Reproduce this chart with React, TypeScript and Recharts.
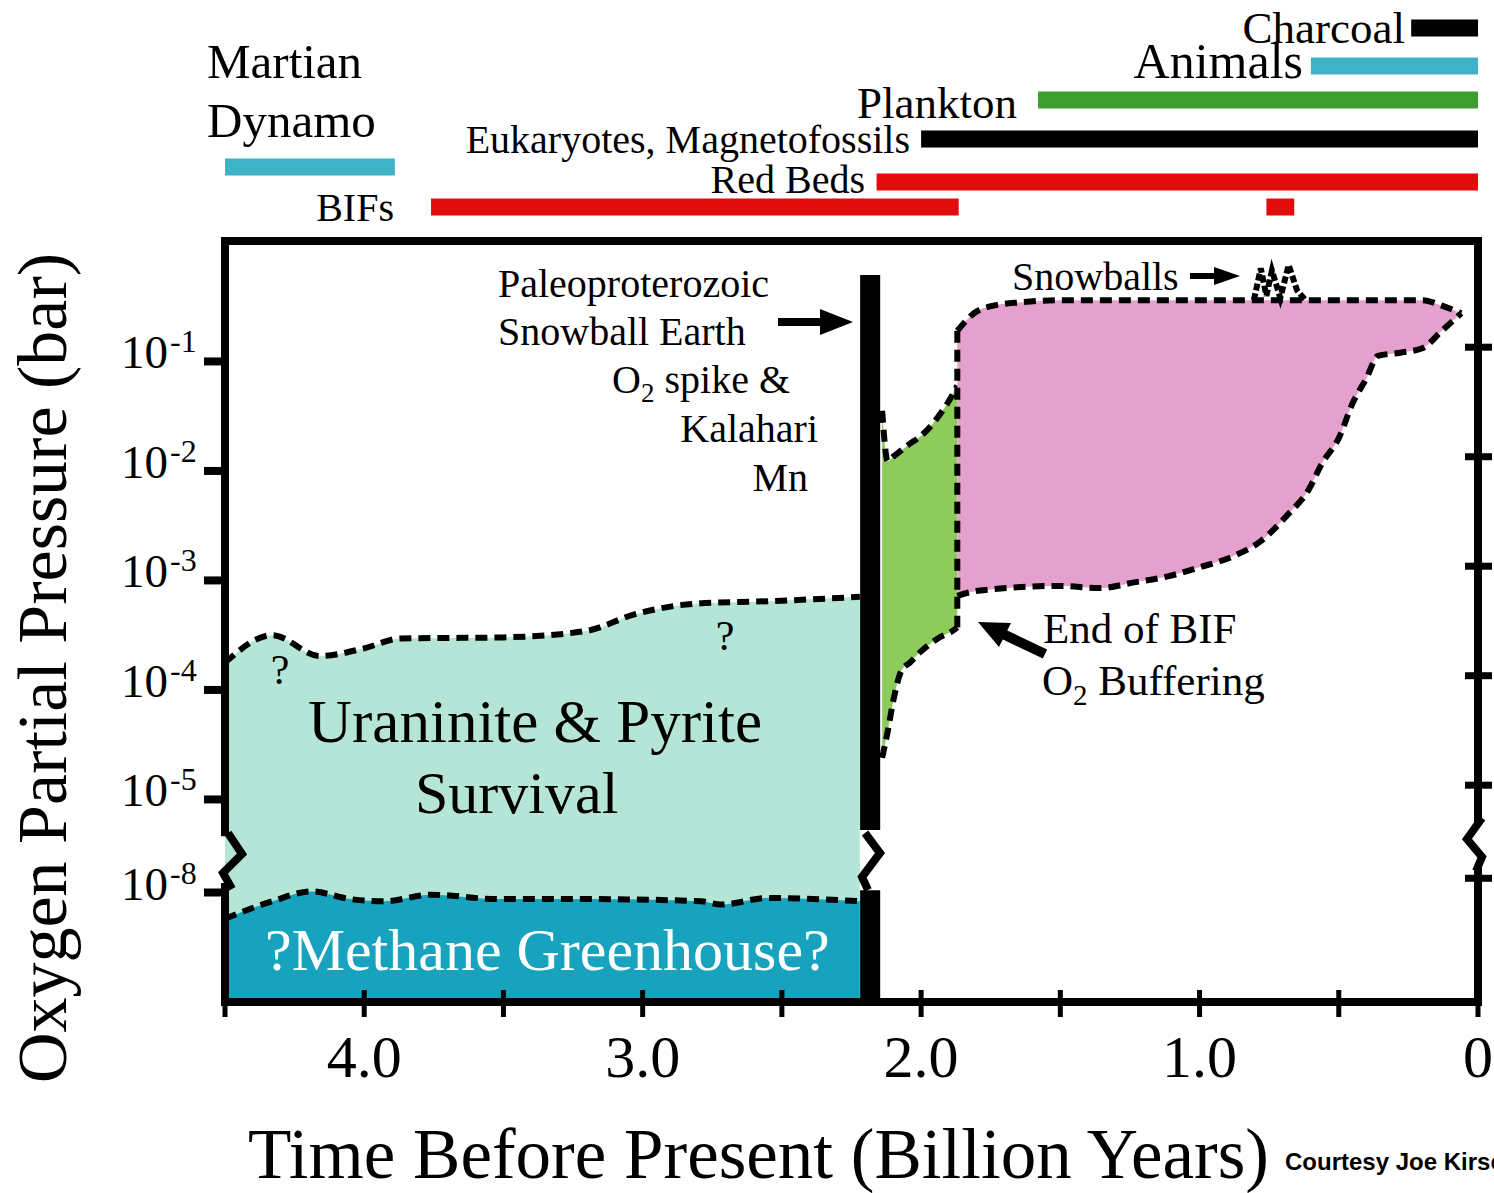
import React from 'react';
import { ComposedChart, LineChart, Line, Area, XAxis, YAxis, ReferenceLine, ReferenceArea } from 'recharts';

const W = 1494;
const H = 1193;
const SERIF = '"Liberation Serif", "Times New Roman", serif';

// time axis, billion years before present
const X_TICKS = [4.5, 4, 3.5, 3, 2.5, 2, 1.5, 1, 0.5, 0];
const X_TICK_LABELS: Record<string, string> = { '4': '4.0', '3': '3.0', '2': '2.0', '1': '1.0', '0': '0' };

// pO2 exponents on the y axis; the axis is broken between 1e-5 and 1e-8
const Y_EXPONENTS = [-1, -2, -3, -4, -5, -8];
const BREAK_SHIFT = 2.15;
const toAxis = (logP: number) => (logP < -6 ? logP + BREAK_SHIFT : logP);
const Y_MIN = toAxis(-9);
const Y_MAX = 0.1;

// upper limit for uraninite & pyrite survival (log10 bar)
const URANINITE_T = [4.5, 4.33, 4.16, 4.0, 3.87, 3.5, 3.2, 3.03, 2.8, 2.55, 2.22];
const URANINITE_LOG = [-3.75, -3.5, -3.69, -3.62, -3.53, -3.52, -3.46, -3.31, -3.21, -3.19, -3.15];

// methane greenhouse ceiling (below the break)
const METHANE_T = [4.5, 4.33, 4.19, 4.05, 3.93, 3.76, 3.52, 3.2, 2.79, 2.72, 2.55, 2.22];
const METHANE_LOG = [-8.24, -8.08, -7.99, -8.06, -8.08, -8.02, -8.06, -8.06, -8.08, -8.11, -8.05, -8.08];

// O2 spike after the Paleoproterozoic snowball
const GREEN_T = [2.14, 2.12, 2.1, 2.07, 2.04, 2.01, 1.94, 1.88, 1.87];
const GREEN_LOW = [-4.62, -4.38, -4.1, -3.82, -3.75, -3.67, -3.53, -3.45, -3.43];
const GREEN_HIGH = [-1.45, -1.91, -1.87, -1.81, -1.75, -1.7, -1.51, -1.27, -1.22];

// oxygenated era
const PINK_T = [1.87, 1.81, 1.74, 1.64, 1.5, 1.36, 1.24, 1.11, 1.0, 0.88, 0.78, 0.68, 0.61, 0.56, 0.5, 0.45, 0.4, 0.36, 0.28, 0.2, 0.13, 0.06];
const PINK_LOW = [-3.14, -3.1, -3.08, -3.06, -3.05, -3.07, -3.02, -2.96, -2.88, -2.78, -2.64, -2.39, -2.18, -1.93, -1.7, -1.38, -1.15, -0.95, -0.92, -0.88, -0.72, -0.56];
const PINK_HIGH = [-0.72, -0.56, -0.49, -0.46, -0.44, -0.44, -0.44, -0.44, -0.44, -0.44, -0.44, -0.44, -0.44, -0.44, -0.44, -0.44, -0.44, -0.44, -0.44, -0.44, -0.49, -0.56];

// Neoproterozoic snowball spikes
const SNOWBALL_T = [0.805, 0.78, 0.76, 0.74, 0.71, 0.68, 0.65, 0.62];
const SNOWBALL_LOG = [-0.44, -0.15, -0.4, -0.17, -0.42, -0.12, -0.35, -0.44];

// Paleoproterozoic snowball event bar
const EVENT = { from: 2.219, to: 2.147, topLog: -0.21 };

// timeline bars above the plot
const TIMELINE = [
  { lane: 'Charcoal', from: 0.24, to: 0 },
  { lane: 'Animals', from: 0.6, to: 0 },
  { lane: 'Plankton', from: 1.58, to: 0 },
  { lane: 'Eukaryotes', from: 2.0, to: 0 },
  { lane: 'Martian', from: 4.5, to: 3.89 },
  { lane: 'Red Beds', from: 2.16, to: 0 },
  { lane: 'BIFs', from: 3.76, to: 1.865 },
  { lane: 'BIFs', from: 0.76, to: 0.66 },
];
const LANE_Y: Record<string, number> = { Charcoal: 28, Animals: 66, Plankton: 100, Eukaryotes: 139, Martian: 167, 'Red Beds': 182, BIFs: 207 };
const LANE_COLOR: Record<string, string> = { Charcoal: '#000', Animals: '#40b2c7', Plankton: '#3d9e2e', Eukaryotes: '#000', Martian: '#40b2c7', 'Red Beds': '#e20c0c', BIFs: '#e20c0c' };

// axis break gaps (axis units)
const BREAK_LEFT = [-5.3, -5.8];
const BREAK_MID = [-5.28, -5.83];
const BREAK_RIGHT = [-5.2, -5.66];
// the right-hand ticks sit a little higher than the left ones in the original
const RIGHT_SHIFT = 0.13;

const uraniniteData = URANINITE_T.map((t, i) => ({ t, v: toAxis(URANINITE_LOG[i]) }));
const methaneData = METHANE_T.map((t, i) => ({ t, v: toAxis(METHANE_LOG[i]) }));
const greenData = GREEN_T.map((t, i) => ({ t, band: [GREEN_LOW[i], GREEN_HIGH[i]] }));
const pinkData = PINK_T.map((t, i) => ({ t, band: [PINK_LOW[i], PINK_HIGH[i]] }));
const snowballData = SNOWBALL_T.map((t, i) => ({ t, v: SNOWBALL_LOG[i] }));
const edgeData = [
  { t: PINK_T[0], v: PINK_HIGH[0] },
  { t: GREEN_T[GREEN_T.length - 1], v: GREEN_LOW[GREEN_LOW.length - 1] },
];

const DASH = '12 7';
const DASH_W = 6;

const exponentFor = (v: number) => Y_EXPONENTS.find(e => Math.abs(toAxis(e) - v) < 1e-6);

function XTick({ x, y, payload }: any) {
  const label = X_TICK_LABELS[String(payload.value)];
  return (
    <g>
      <line x1={x} x2={x} y1={y - 12} y2={y + 15} stroke="#000" strokeWidth={5} />
      {label && (
        <text x={x} y={y + 75} textAnchor="middle" fontFamily={SERIF} fontSize={60} fill="#000">{label}</text>
      )}
    </g>
  );
}

function YTickLeft({ x, y, payload }: any) {
  const e = exponentFor(payload.value);
  return (
    <g>
      <line x1={x - 21} x2={x} y1={y} y2={y} stroke="#000" strokeWidth={8} />
      <text x={x - 57} y={y + 7} textAnchor="end" fontFamily={SERIF} fontSize={47} fill="#000">10</text>
      <text x={x - 55} y={y - 9} fontFamily={SERIF} fontSize={32} fill="#000">{e}</text>
    </g>
  );
}

function YTickRight({ x, y }: any) {
  return <line x1={x - 13} x2={x + 14} y1={y} y2={y} stroke="#000" strokeWidth={7} />;
}

function TimelineChart() {
  return (
    <LineChart width={W} height={240} margin={{ top: 0, right: 16, bottom: 0, left: 225 }}>
      <XAxis type="number" dataKey="t" domain={[0, 4.5]} reversed allowDataOverflow hide />
      <YAxis type="number" domain={[0, 240]} reversed allowDataOverflow hide />
      {TIMELINE.map((b, i) => (
        <Line
          key={`bar-${i}`}
          data={[{ t: b.from, y: LANE_Y[b.lane] }, { t: b.to, y: LANE_Y[b.lane] }]}
          dataKey="y"
          stroke={LANE_COLOR[b.lane]}
          strokeWidth={17}
          strokeLinecap="butt"
          dot={false}
          activeDot={false}
          isAnimationActive={false}
        />
      ))}
    </LineChart>
  );
}

function MainChart() {
  const frame = { stroke: '#000', strokeWidth: 8, ifOverflow: 'visible' as const, yAxisId: 'left' };
  const dashed = { stroke: '#000', strokeWidth: DASH_W, strokeDasharray: DASH, dot: false, activeDot: false, isAnimationActive: false };
  return (
    <ComposedChart width={W} height={H} margin={{ top: 241, right: 0, bottom: 0, left: 0 }}>
      <XAxis
        type="number"
        dataKey="t"
        domain={[0, 4.5]}
        reversed
        allowDataOverflow
        ticks={X_TICKS}
        interval={0}
        axisLine={false}
        tickLine={false}
        tickSize={0}
        tickMargin={0}
        height={191}
        tick={(p: any) => <XTick {...p} />}
      />
      <YAxis
        yAxisId="left"
        type="number"
        domain={[Y_MIN, Y_MAX]}
        allowDataOverflow
        ticks={Y_EXPONENTS.map(toAxis)}
        interval={0}
        axisLine={false}
        tickLine={false}
        tickSize={0}
        tickMargin={0}
        width={225}
        tick={(p: any) => <YTickLeft {...p} />}
      />
      <YAxis
        yAxisId="right"
        orientation="right"
        type="number"
        domain={[Y_MIN - RIGHT_SHIFT, Y_MAX - RIGHT_SHIFT]}
        allowDataOverflow
        ticks={Y_EXPONENTS.map(toAxis)}
        interval={0}
        axisLine={false}
        tickLine={false}
        tickSize={0}
        tickMargin={0}
        width={16}
        tick={(p: any) => <YTickRight {...p} />}
      />

      <Area yAxisId="left" data={uraniniteData} dataKey="v" type="monotone" baseValue={Y_MIN} fill="#b4e5d6" fillOpacity={1} {...dashed} />
      <Area yAxisId="left" data={methaneData} dataKey="v" type="monotone" baseValue={Y_MIN} fill="#17a3be" fillOpacity={1} {...dashed} />
      <Area yAxisId="left" data={greenData} dataKey="band" type="monotone" fill="#8dcb5b" fillOpacity={1} {...dashed} />
      <Area yAxisId="left" data={pinkData} dataKey="band" type="monotone" fill="#e5a1cd" fillOpacity={1} {...dashed} />
      <Line yAxisId="left" data={edgeData} dataKey="v" type="linear" {...dashed} />
      <Line yAxisId="left" data={snowballData} dataKey="v" type="linear" {...dashed} strokeDasharray="7 3" />

      <ReferenceArea yAxisId="left" x1={EVENT.from} x2={EVENT.to} y1={EVENT.topLog} y2={BREAK_MID[0]} fill="#000" fillOpacity={1} stroke="none" ifOverflow="visible" />
      <ReferenceArea yAxisId="left" x1={EVENT.from} x2={EVENT.to} y1={BREAK_MID[1]} y2={Y_MIN} fill="#000" fillOpacity={1} stroke="none" ifOverflow="visible" />

      <ReferenceLine {...frame} y={Y_MAX} />
      <ReferenceLine {...frame} y={Y_MIN} />
      <ReferenceLine {...frame} strokeLinecap="square" segment={[{ x: 4.5, y: Y_MAX }, { x: 4.5, y: BREAK_LEFT[0] }]} />
      <ReferenceLine {...frame} strokeLinecap="square" segment={[{ x: 4.5, y: BREAK_LEFT[1] }, { x: 4.5, y: Y_MIN }]} />
      <ReferenceLine {...frame} strokeLinecap="square" segment={[{ x: 0, y: Y_MAX }, { x: 0, y: BREAK_RIGHT[0] }]} />
      <ReferenceLine {...frame} strokeLinecap="square" segment={[{ x: 0, y: BREAK_RIGHT[1] }, { x: 0, y: Y_MIN }]} />
    </ComposedChart>
  );
}

function Sub({ children, size }: { children: string; size: number }) {
  return <tspan fontSize={size} dy={size * 0.33}>{children}</tspan>;
}

function Overlay() {
  const t = { fontFamily: SERIF, fill: '#000' };
  return (
    <svg width={W} height={H} style={{ position: 'absolute', left: 0, top: 0, pointerEvents: 'none' }}>
      {/* timeline labels */}
      <text {...t} x={207} y={78} fontSize={49}>Martian</text>
      <text {...t} x={207} y={137} fontSize={49}>Dynamo</text>
      <text {...t} x={1405} y={43} fontSize={45} textAnchor="end">Charcoal</text>
      <text {...t} x={1303} y={78} fontSize={50} textAnchor="end">Animals</text>
      <text {...t} x={1017} y={118} fontSize={45} textAnchor="end">Plankton</text>
      <text {...t} x={910} y={153} fontSize={40} textAnchor="end">Eukaryotes, Magnetofossils</text>
      <text {...t} x={865} y={193} fontSize={40} textAnchor="end">Red Beds</text>
      <text {...t} x={394} y={221} fontSize={40} textAnchor="end">BIFs</text>

      {/* in-plot annotations */}
      <text {...t} x={498} y={297} fontSize={40}>Paleoproterozoic</text>
      <text {...t} x={498} y={345} fontSize={40}>Snowball Earth</text>
      <line x1={778} y1={322} x2={826} y2={322} stroke="#000" strokeWidth={8} />
      <polygon points="820,309 853,322 820,335" fill="#000" />
      <text {...t} x={790} y={393} fontSize={40} textAnchor="end">
        O<Sub size={27}>2</Sub>
        <tspan dy={-9}>{' spike &'}</tspan>
      </text>
      <text {...t} x={818} y={442} fontSize={40} textAnchor="end">Kalahari</text>
      <text {...t} x={808} y={491} fontSize={40} textAnchor="end">Mn</text>

      <text {...t} x={1012} y={290} fontSize={40}>Snowballs</text>
      <line x1={1190} y1={276} x2={1220} y2={276} stroke="#000" strokeWidth={6} />
      <polygon points="1214,267 1240,276 1214,285" fill="#000" />

      <text {...t} x={1043} y={643} fontSize={43}>End of BIF</text>
      <text {...t} x={1042} y={695} fontSize={43}>
        O<Sub size={29}>2</Sub>
        <tspan dy={-10}>{' Buffering'}</tspan>
      </text>
      <line x1={1045} y1={654} x2={1003} y2={634} stroke="#000" strokeWidth={10} />
      <polygon points="978,622 1011,623 999,647" fill="#000" />

      <text {...t} x={308} y={742} fontSize={61}>Uraninite &amp; Pyrite</text>
      <text {...t} x={415} y={813} fontSize={60}>Survival</text>
      <text {...t} x={265} y={970} fontSize={60} fill="#fff">?Methane Greenhouse?</text>
      <text {...t} x={280} y={684} fontSize={42} textAnchor="middle">?</text>
      <text {...t} x={725} y={650} fontSize={42} textAnchor="middle">?</text>

      {/* axis break marks */}
      <polyline points="228,833 242,854 223,873 232,889" fill="none" stroke="#000" strokeWidth={8} />
      <polyline points="865,833 880,853 862,877 868,890" fill="none" stroke="#000" strokeWidth={8} />
      <polyline points="1482,818 1467,839 1482,857 1476,871" fill="none" stroke="#000" strokeWidth={8} />

      {/* axis titles */}
      <text {...t} fontSize={70} textAnchor="middle" transform="translate(66,668) rotate(-90)">
        Oxygen Partial Pressure (bar)
      </text>
      <text {...t} x={248} y={1178} fontSize={71}>Time Before Present (Billion Years)</text>
      <text x={1285} y={1170} fontSize={24} fontWeight="bold" fontFamily='"Liberation Sans", Arial, sans-serif' fill="#000">
        Courtesy Joe Kirschvink
      </text>
    </svg>
  );
}

export default function App() {
  return (
    <div style={{ position: 'absolute', left: 0, top: 0, width: W, height: H, background: '#fff', overflow: 'hidden' }}>
      <div style={{ position: 'absolute', left: 0, top: 0 }}>
        <MainChart />
      </div>
      <div style={{ position: 'absolute', left: 0, top: 0 }}>
        <TimelineChart />
      </div>
      <Overlay />
    </div>
  );
}
